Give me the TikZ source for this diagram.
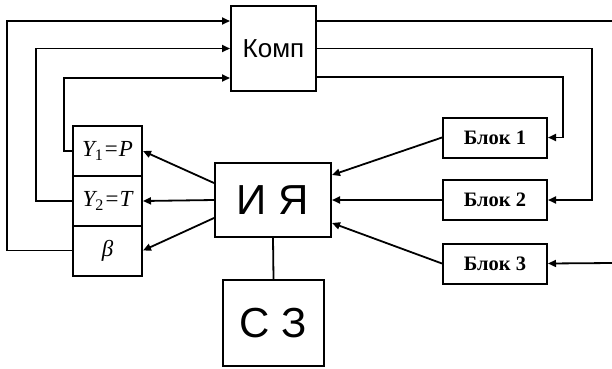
\documentclass[tikz,border=0pt]{standalone}
\usepackage{fontspec}
\setmainfont{Liberation Serif}
\newfontfamily\arialfont{Liberation Sans}
\usetikzlibrary{arrows.meta}
\begin{document}
\begin{tikzpicture}[x=1pt,y=1pt,
  box/.style={draw, line width=2pt, rectangle, inner sep=0pt},
  blokbox/.style={box, minimum width=104pt, minimum height=40pt,
    font=\fontsize{20.5}{24}\selectfont\bfseries},
  ycell/.style={box, minimum width=69pt, minimum height=50pt,
    font=\fontsize{23}{27}\selectfont\itshape},
  wire/.style={line width=1.8pt},
  arr/.style={wire, -{Triangle[length=8pt,width=7pt]}}]
\useasboundingbox (0,0) rectangle (612,-368);

% main blocks
\node[box, minimum width=85pt, minimum height=85pt,
  font=\arialfont\fontsize{26}{30}\selectfont] (komp) at (273.5,-48.5) {Комп};
\node[box, minimum width=116pt, minimum height=74pt,
  font=\arialfont\fontsize{42}{46}\selectfont] (iya) at (273,-200) {И Я};
\node[box, minimum width=101pt, minimum height=86pt,
  font=\arialfont\fontsize{42}{46}\selectfont] (sz) at (273.5,-323) {С З};

% input blocks
\node[blokbox] (b1) at (495,-137.5) {Блок 1};
\node[blokbox] (b2) at (495,-200) {Блок 2};
\node[blokbox] (b3) at (495,-263.5) {Блок 3};

% output cells
\node[ycell] (y1) at (107.5,-151) {Y\textsubscript{\upshape 1}=P};
\node[ycell] (y2) at (107.5,-201) {Y\textsubscript{\upshape 2}=T};
\node[ycell] (be) at (107.5,-250.5) {β};

% free ends at the right edge
\coordinate (rtop) at (612,-21);
\coordinate (rbot) at (612,-263);

% feedback from the output cells into Комп
\draw[arr] (be.west) -- ++(-65,0) |- ([yshift=27.5pt]komp.west);
\draw[arr] (y2.west) -- ++(-36,0) |- (komp.west);
\draw[arr] (y1.west) -- ++(-8,0) |- ([yshift=-29.5pt]komp.west);

% outputs of Комп
\draw[wire] ([yshift=27.5pt]komp.east) -- (rtop);
\draw[arr] (komp.east) -| ++(275,-75) |- (b2.east);
\draw[arr] ([yshift=-28.5pt]komp.east) -| ++(246,-40) |- (b1.east);
\draw[arr] (rbot) -- (b3.east);

% И Я to the output cells
\draw[arr] ([yshift=17pt]iya.west) -- (y1.east);
\draw[arr] (iya.west) -- (y2.east);
\draw[arr] ([yshift=-18pt]iya.west) -- (be.east);

% blocks into И Я
\draw[arr] (b1.west) -- ([yshift=25pt]iya.east);
\draw[arr] (b2.west) -- (iya.east);
\draw[arr] (b3.west) -- ([yshift=-23pt]iya.east);

% И Я to С З
\draw[wire] (iya.south) -- (sz.north);
\end{tikzpicture}
\end{document}
